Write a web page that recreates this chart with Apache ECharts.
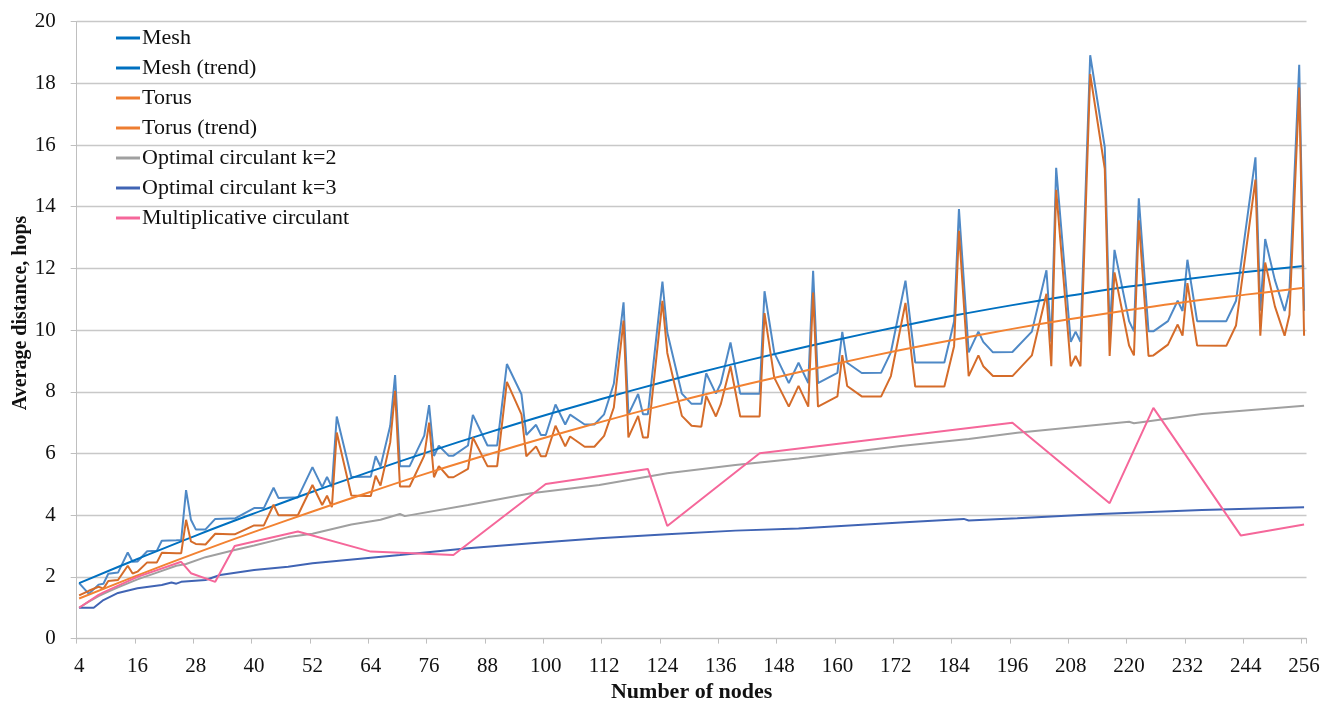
<!DOCTYPE html>
<html>
<head>
<meta charset="utf-8">
<script src="https://cdn.jsdelivr.net/npm/echarts@6/dist/echarts.min.js"></script>
<style>
html,body{margin:0;padding:0;background:#fff;overflow:hidden;}
#chart{width:1325px;height:703px;}
</style>
</head>
<body>
<div id="chart"></div>
<script>
// ---- categories (number of nodes) ----
const categories = [];
for (let n = 4; n <= 256; n++) categories.push(String(n));

const yTicks = [0, 2, 4, 6, 8, 10, 12, 14, 16, 18, 20];

// ---- Mesh / Torus (same node counts) ----
const gridN = [4,6,8,9,10,12,14,15,16,18,20,21,24,25,26,27,28,30,32,35,36,40,42,44,45,48,49,52,54,55,56,57,60,63,64,65,66,68,69,70,72,75,76,77,78,80,81,84,85,88,90,92,95,96,98,99,100,102,104,105,108,110,112,114,116,117,119,120,121,124,125,128,130,132,133,135,136,138,140,144,145,147,150,152,154,155,156,160,161,162,165,169,171,174,176,182,184,185,187,189,190,192,196,200,203,204,205,208,209,210,212,215,216,217,220,221,222,224,225,228,230,231,232,234,240,242,246,247,248,250,252,253,255,256];

const meshValues = [1.80,1.45,1.75,1.78,2.10,2.14,2.79,2.49,2.50,2.83,2.85,3.17,3.19,3.20,4.81,3.85,3.54,3.54,3.88,3.89,3.89,4.23,4.23,4.89,4.56,4.57,4.57,5.56,4.91,5.24,4.91,7.20,5.24,5.25,5.25,5.91,5.58,6.90,8.54,5.59,5.59,6.58,7.57,5.92,6.25,5.93,5.93,6.26,7.25,6.26,6.26,8.90,7.92,6.60,6.93,6.60,6.60,7.59,6.94,7.26,6.94,6.94,7.27,8.26,10.90,7.27,7.93,7.27,7.27,11.57,9.92,7.94,7.61,7.61,8.60,7.94,8.27,9.60,7.94,7.94,11.26,9.27,8.28,8.94,8.28,11.92,8.28,8.61,9.94,8.94,8.61,8.62,9.28,11.60,8.95,8.95,10.28,13.92,9.28,9.95,9.62,9.28,9.29,9.95,11.94,9.62,15.26,9.62,9.95,9.62,18.91,15.93,9.95,12.60,10.29,9.96,14.27,9.96,9.96,10.29,10.95,10.62,12.28,10.29,10.29,10.95,15.60,10.63,12.95,11.62,10.62,11.29,18.60,10.63];

const torusValues = [1.40,1.55,1.68,1.62,1.87,1.90,2.36,2.11,2.17,2.47,2.47,2.78,2.77,2.77,3.85,3.15,3.07,3.05,3.40,3.38,3.38,3.67,3.67,4.34,4.00,4.00,4.00,4.98,4.33,4.63,4.26,6.68,4.64,4.62,4.62,5.28,4.96,6.36,8.03,4.93,4.93,5.93,7.00,5.23,5.59,5.23,5.23,5.50,6.52,5.59,5.59,8.32,7.27,5.91,6.23,5.91,5.91,6.90,6.23,6.55,6.22,6.22,6.57,7.49,10.31,6.52,7.22,6.52,6.52,10.95,9.26,7.22,6.90,6.87,7.87,7.20,7.60,8.83,7.20,7.20,10.55,8.46,7.52,8.19,7.52,11.22,7.52,7.85,9.19,8.19,7.85,7.85,8.51,10.88,8.17,8.17,9.48,13.22,8.51,9.18,8.83,8.51,8.51,9.18,11.18,8.83,14.55,8.83,9.16,8.83,18.30,15.23,9.16,11.87,9.50,9.18,13.56,9.16,9.18,9.53,10.18,9.82,11.52,9.50,9.49,10.15,14.88,9.82,12.19,10.77,9.82,10.50,17.86,9.82];

// ---- Trend lines (read at the labelled node counts) ----
const trendN = [4,16,28,40,52,64,76,88,100,112,124,136,148,160,172,184,196,208,220,232,244,256];
const meshTrendValues  = [1.80,2.58,3.34,4.06,4.76,5.42,6.06,6.67,7.25,7.79,8.31,8.80,9.26,9.69,10.09,10.47,10.81,11.12,11.41,11.66,11.88,12.08];
const torusTrendValues = [1.30,2.05,2.77,3.46,4.12,4.76,5.38,5.96,6.52,7.05,7.56,8.04,8.49,8.92,9.32,9.69,10.04,10.36,10.65,10.92,11.15,11.37];

// ---- Optimal circulant k=2 ----
const circ2N = [4,6,8,10,12,16,20,24,26,30,36,40,47,52,60,66,70,71,84,97,111,125,139,152,173,187,197,220,221,235,256];
const circ2Values = [1.0,1.2,1.38,1.52,1.66,1.92,2.14,2.36,2.42,2.64,2.87,3.02,3.29,3.40,3.70,3.85,4.04,3.97,4.33,4.71,4.98,5.36,5.63,5.84,6.24,6.47,6.67,7.03,6.98,7.28,7.55];

// ---- Optimal circulant k=3 ----
const circ3N = [4,7,9,12,16,21,23,24,25,30,33,40,47,52,70,84,97,111,125,139,152,173,186,187,197,214,235,256];
const circ3Values = [1.0,1.0,1.25,1.48,1.63,1.74,1.82,1.78,1.84,1.90,2.06,2.22,2.33,2.44,2.71,2.93,3.09,3.25,3.38,3.50,3.57,3.76,3.88,3.83,3.90,4.04,4.17,4.26];

// ---- Multiplicative circulant ----
const multN = [4,8,9,16,25,27,32,36,49,64,81,100,121,125,144,196,216,225,243,256];
const multValues = [1.0,1.42,1.5,2.0,2.49,2.12,1.84,3.0,3.47,2.82,2.71,5.01,5.5,3.65,6.01,7.0,4.39,7.48,3.34,3.70];

// ---- build full category-aligned arrays ----
function toSeries(ns, vs) {
  const arr = new Array(categories.length).fill(null);
  ns.forEach((n, i) => { arr[categories.indexOf(String(n))] = vs[i]; });
  return arr;
}

const FONT = "'Liberation Serif','Times New Roman',serif";

function lineSeries(name, ns, vs, color, smooth) {
  return {
    name: name,
    type: 'line',
    data: toSeries(ns, vs),
    connectNulls: true,
    showSymbol: false,
    symbol: 'none',
    smooth: smooth ? 0.4 : false,
    lineStyle: { color: color, width: 2 },
    itemStyle: { color: color },
    emphasis: { disabled: true },
    animation: false
  };
}

const chart = echarts.init(document.getElementById('chart'), null, { renderer: 'canvas', width: 1325, height: 703 });
chart.setOption({
  backgroundColor: '#ffffff',
  animation: false,
  grid: { left: 76.7, right: 18.5, top: 21.6, bottom: 64.4, containLabel: false, outerBoundsMode: 'none' },
  legend: {
    orient: 'vertical',
    left: 111,
    top: 22,
    icon: 'rect',
    itemWidth: 24,
    itemHeight: 3,
    itemGap: 8,
    textStyle: { fontFamily: FONT, fontSize: 22, color: '#111', lineHeight: 22, padding: [0, 0, 0, -3] },
    data: [
      { name: 'Mesh', itemStyle: { color: '#0070C0' } },
      { name: 'Mesh (trend)', itemStyle: { color: '#0070C0' } },
      { name: 'Torus', itemStyle: { color: '#ED7D31' } },
      { name: 'Torus (trend)', itemStyle: { color: '#ED7D31' } },
      { name: 'Optimal circulant k=2', itemStyle: { color: '#A0A0A0' } },
      { name: 'Optimal circulant k=3', itemStyle: { color: '#4064B4' } },
      { name: 'Multiplicative circulant', itemStyle: { color: '#F5679A' } }
    ]
  },
  graphic: [{
    type: 'text',
    x: 21,
    y: 313,
    rotation: Math.PI / 2,
    style: {
      text: 'Average distance, hops',
      fontFamily: FONT,
      fontSize: 20,
      fontWeight: 'bold',
      fill: '#111',
      align: 'center',
      verticalAlign: 'middle'
    }
  }],
  xAxis: {
    type: 'category',
    data: categories,
    boundaryGap: true,
    name: 'Number of nodes',
    nameLocation: 'middle',
    nameGap: 41,
    nameTextStyle: { fontFamily: FONT, fontSize: 22, fontWeight: 'bold', color: '#111' },
    axisLine: { show: true, lineStyle: { color: '#BFBFBF', width: 1 } },
    axisTick: { show: true, interval: 11, length: 5, lineStyle: { color: '#BFBFBF' } },
    axisLabel: { interval: 11, margin: 17, fontFamily: FONT, fontSize: 21, color: '#111' },
    splitLine: { show: false }
  },
  yAxis: {
    type: 'value',
    min: yTicks[0],
    max: yTicks[yTicks.length - 1],
    interval: 2,
    axisLine: { show: true, lineStyle: { color: '#BFBFBF', width: 1 } },
    axisTick: { show: true, length: 6, lineStyle: { color: '#BFBFBF' } },
    axisLabel: { margin: 21, fontFamily: FONT, fontSize: 21, color: '#111' },
    splitLine: { show: true, lineStyle: { color: '#C8C8C8', width: 1.3 } }
  },
  series: [
    lineSeries('Mesh', gridN, meshValues, '#4F89C6', false),
    lineSeries('Mesh (trend)', trendN, meshTrendValues, '#0070C0', true),
    lineSeries('Torus', gridN, torusValues, '#D56C2A', false),
    lineSeries('Torus (trend)', trendN, torusTrendValues, '#F28232', true),
    lineSeries('Optimal circulant k=2', circ2N, circ2Values, '#A0A0A0', false),
    lineSeries('Optimal circulant k=3', circ3N, circ3Values, '#4064B4', false),
    lineSeries('Multiplicative circulant', multN, multValues, '#F5679A', false)
  ]
});
</script>
</body>
</html>
